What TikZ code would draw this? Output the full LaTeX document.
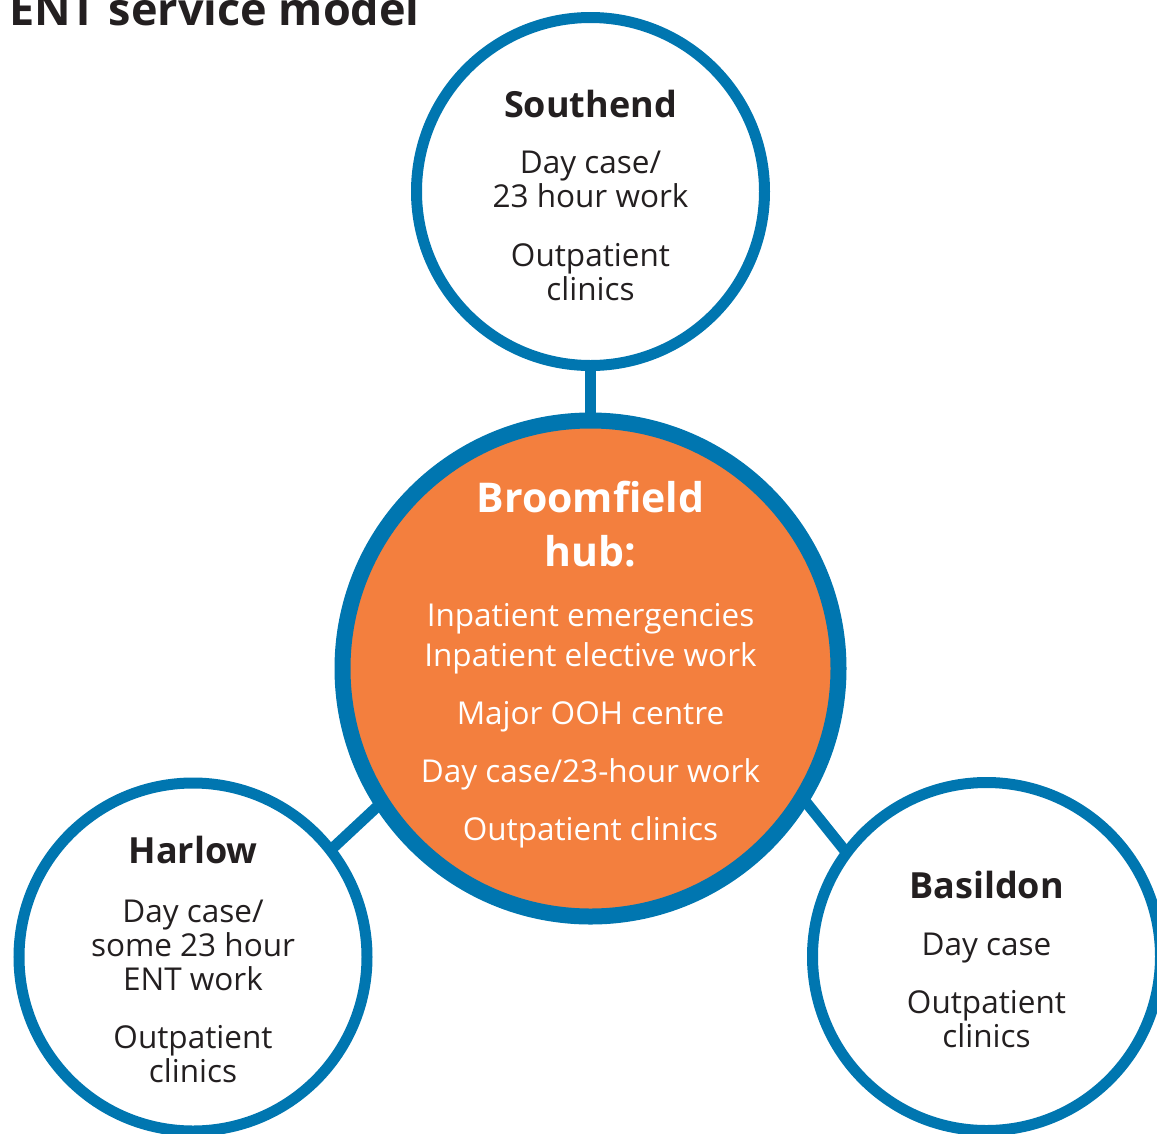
\documentclass[tikz,border=0pt]{standalone}
\usepackage{fontspec}
\setmainfont{Open Sans}
\usepackage{xcolor}
\usetikzlibrary{backgrounds}
\definecolor{ringblue}{RGB}{0,118,176}
\definecolor{huborange}{RGB}{243,127,62}
\definecolor{inkgrey}{RGB}{35,31,32}
\newcommand{\siteName}[1]{{\bfseries\fontsize{36}{34}\selectfont #1}}
\newcommand{\hubName}[1]{{\bfseries\fontsize{41}{40}\selectfont #1}}
\tikzset{
  site/.style={circle, draw=ringblue, line width=11pt, fill=white,
    minimum size=348pt, inner sep=0pt},
  hubring/.style={circle, draw=ringblue, line width=16pt, fill=huborange,
    minimum size=496pt, inner sep=0pt},
  link/.style={draw=ringblue, line width=11pt, shorten <=-6pt, shorten >=-6pt},
  sitetext/.style={align=center, text=inkgrey, inner sep=0pt,
    font=\fontsize{31.5}{34}\selectfont},
  hubtext/.style={align=center, text=white, inner sep=0pt,
    font=\fontsize{31.5}{40}\selectfont},
  title/.style={anchor=base west, inner sep=0pt, text=inkgrey,
    font=\bfseries\fontsize{45}{48}\selectfont}
}

\begin{document}
\begin{tikzpicture}[x=1pt,y=-1pt]
\useasboundingbox (0,0) rectangle (1157,1133);
\node[title] (title) at (9,25) {ENT service model};

\node[site] (south) at (590.5,191.5) {};
\node[hubring] (hub) at (590.5,668.5) {};
\node[site] (harlow) at (193,957) {};
\node[site] (basildon) at (986.5,956.5) {};

\begin{scope}[on background layer]
\draw[link] (south) -- (hub);
\draw[link] (hub.213) -- (harlow.38);
\draw[link] (hub.-32) -- (basildon.143);
\end{scope}

\node[sitetext, yshift=-3.5pt] (southtxt) at (south) {\siteName{Southend}\\[22pt]
  Day case/\\23 hour work\\[25pt]
  Outpatient\\clinics};
\node[hubtext, yshift=4.2pt] (hubtxt) at (hub) {\hubName{Broomfield}\\[14pt]
  \hubName{hub:}\\[20pt]
  Inpatient emergencies\\Inpatient elective work\\[18pt]
  Major OOH centre\\[18pt]
  Day case/23-hour work\\[18pt]
  Outpatient clinics};
\node[sitetext, yshift=-2pt] (harlowtxt) at (harlow) {\siteName{Harlow}\\[25pt]
  Day case/\\some 23 hour\\ENT work\\[24pt]
  Outpatient\\clinics};
\node[sitetext, yshift=-2.5pt] (basildontxt) at (basildon) {\siteName{Basildon}\\[23pt]
  Day case\\[24pt]
  Outpatient\\clinics};
\end{tikzpicture}
\end{document}
